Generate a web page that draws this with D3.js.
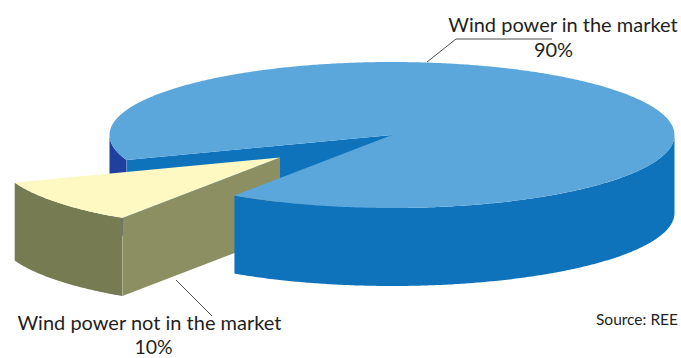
<!DOCTYPE html>
<html><head><meta charset="utf-8">
<script src="https://cdnjs.cloudflare.com/ajax/libs/d3/7.8.5/d3.min.js"></script>
<style>html,body{margin:0;background:#fff}svg{display:block}text{font-family:"Lato",sans-serif;fill:#231f20}</style>
</head><body><svg id="c" width="681" height="358"></svg>
<script>
const categories=["Wind power in the market","Wind power not in the market"];
const percentages=[90,10];
const percentLabels=["90%","10%"];
const sourceLabel="Source: REE";
const deg=Math.PI/180, start=249.9*deg;
const svg=d3.select("#c");
const cx=392,cy=135,rx=282.5,ry=73,depth=78;
const sliceShift=[-112,22.5];
const sx=d3.scaleLinear().domain([-1,1]).range([cx-rx,cx+rx]);
const sy=d3.scaleLinear().domain([-1,1]).range([cy-ry,cy+ry]);
const arcs=d3.pie().sort(null).startAngle(start).endAngle(start+2*Math.PI)(percentages);
const line=d3.line();
const pt=(a,dx,dy)=>[sx(Math.sin(a))+dx,sy(-Math.cos(a))+dy];
const centre=(dx,dy)=>[sx(0)+dx,sy(0)+dy];
const rim=(a0,a1,dx,dy)=>{const n=Math.max(2,Math.ceil(Math.abs(a1-a0)/(0.5*deg)));return d3.range(n+1).map(i=>pt(a0+(a1-a0)*i/n,dx,dy));};
const shape=(pts,fill)=>svg.append("path").attr("d",line(pts)+"Z").attr("fill",fill);
const main=arcs[0],slice=arcs[1];
const side=(a0,a1,dx,dy)=>rim(a0,a1,dx,dy).concat(rim(a1,a0,dx,dy+depth));
const wall=(a,dx,dy)=>[pt(a,dx,dy),centre(dx,dy),centre(dx,dy+depth),pt(a,dx,dy+depth)];

shape(side(main.startAngle,270*deg,0,0),"#1f409c");
shape(wall(main.startAngle,0,0),"#0f73bc");
const m0=pt(main.startAngle,0,0);
svg.append("line").attr("x1",m0[0]).attr("y1",m0[1]).attr("x2",m0[0]).attr("y2",m0[1]+depth).attr("stroke","#7f9fd0").attr("stroke-width",.6);

const [ox,oy]=sliceShift;
shape(side(slice.startAngle,slice.endAngle,ox,oy),"#777b52");
shape(wall(slice.startAngle,ox,oy),"#8c8f62");
shape([centre(ox,oy)].concat(rim(slice.startAngle,slice.endAngle,ox,oy)),"#fef9c3");
const e0=pt(slice.startAngle,ox,oy);
svg.append("line").attr("x1",e0[0]).attr("y1",e0[1]+18).attr("x2",e0[0]).attr("y2",e0[1]+depth).attr("stroke","#b9bba0").attr("stroke-width",.6);
svg.append("line").attr("x1",e0[0]).attr("y1",e0[1]).attr("x2",e0[0]).attr("y2",e0[1]+18).attr("stroke","#6f7a70").attr("stroke-width",.6);

shape(side(main.endAngle,90*deg+360*deg,0,0),"#0f73bc");
shape([centre(0,0)].concat(rim(main.startAngle,main.endAngle,0,0)),"#5ba7dc");

const leader=[[[427,62],[456,39],[552,39]],[[176,280],[212,316]]];
leader.forEach(l=>svg.append("path").attr("d",line(l)).attr("fill","none").attr("stroke","#3a3a3a").attr("stroke-width",.9));

const labelPos=[[563,32,553.5,57],[149.5,330,153.5,354]];
categories.forEach((c,i)=>{
  const [x1,y1,x2,y2]=labelPos[i];
  svg.append("text").attr("x",x1).attr("y",y1).attr("text-anchor","middle").attr("font-size",20).text(c);
  svg.append("text").attr("x",x2).attr("y",y2).attr("text-anchor","middle").attr("font-size",i?19.5:20).text(percentLabels[i]);
});
svg.append("text").attr("x",637).attr("y",325).attr("text-anchor","middle").attr("font-size",15.5).text(sourceLabel);
</script></body></html>
